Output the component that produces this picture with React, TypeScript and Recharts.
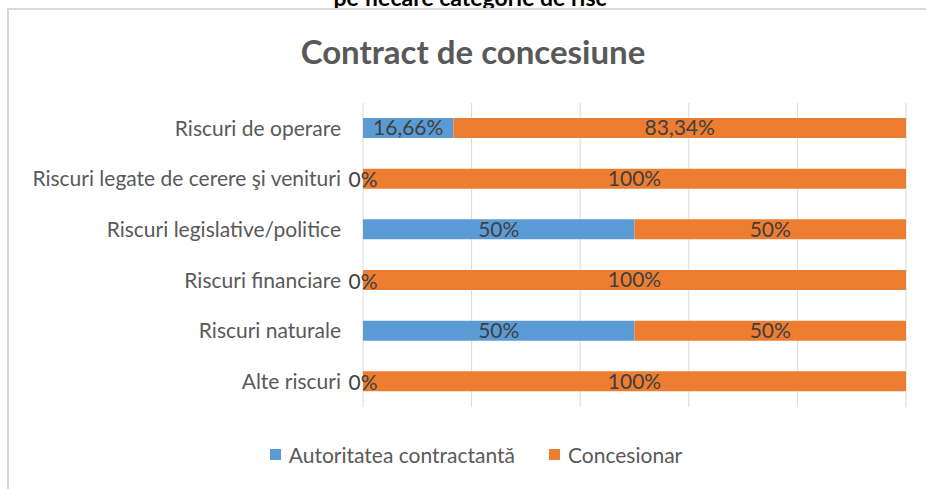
import React from 'react';
import { BarChart, Bar, XAxis, YAxis, CartesianGrid, LabelList } from 'recharts';

const categories = [
  'Riscuri de operare',
  'Riscuri legate de cerere şi venituri',
  'Riscuri legislative/politice',
  'Riscuri financiare',
  'Riscuri naturale',
  'Alte riscuri',
];
const autoritate = [16.66, 0, 50, 0, 50, 0];
const concesionar = [83.34, 100, 50, 100, 50, 100];
const xTicks = [0, 20, 40, 60, 80, 100];

const seriesNames = ['Autoritatea contractantă', 'Concesionar'];
const BLUE = '#5b9bd5';
const ORANGE = '#ed7d31';
const FONT = 'Lato, "Open Sans", sans-serif';

const data = categories.map((name, i) => ({
  name,
  autoritate: autoritate[i],
  concesionar: concesionar[i],
}));

const pct = (v: any) => `${String(v).replace('.', ',')}%`;

const labelStyle = { fill: '#404040', fontSize: 21, fontFamily: FONT };

// zero-valued blue segments have no rectangle, so draw their "0%" at the start of the orange bar
const ZeroLabel = (props: any) => {
  const { x, y, height, value } = props;
  if (value !== 0) return null;
  return (
    <text x={x} y={y + height / 2} textAnchor="middle" dominantBaseline="central" {...labelStyle}>
      {pct(value)}
    </text>
  );
};

export default function App() {
  return (
    <div style={{ position: 'absolute', left: 0, top: 0, width: 926, height: 489, background: '#fff', overflow: 'hidden', fontFamily: FONT }}>
      <div style={{ position: 'absolute', top: -16, left: 0, width: 940, textAlign: 'center', fontSize: 23, fontWeight: 700, color: '#000', lineHeight: 1.2 }}>
        pe fiecare categorie de risc
      </div>
      <div style={{ position: 'absolute', left: 7, top: 8, width: 1000, height: 500, borderTop: '2px solid #d9d9d9', borderLeft: '2px solid #d9d9d9', background: '#fff' }} />
      <div style={{ position: 'absolute', top: 31, left: 0, width: 946, textAlign: 'center', fontSize: 33, fontWeight: 700, color: '#595959' }}>
        Contract de concesiune
      </div>
      <div style={{ position: 'absolute', left: 0, top: 0 }}>
        <BarChart
          width={926}
          height={489}
          data={data}
          layout="vertical"
          margin={{ top: 103, right: 20, bottom: 82, left: 0 }}
          barSize={20}
        >
          <CartesianGrid horizontal={false} stroke="#d9d9d9" />
          <XAxis type="number" domain={[0, 100]} ticks={xTicks} hide />
          <YAxis
            type="category"
            dataKey="name"
            width={363}
            axisLine={false}
            tickLine={false}
            tickMargin={16}
            tick={{ fill: '#595959', fontSize: 21, fontFamily: FONT }}
          />
          <Bar dataKey="autoritate" stackId="a" fill={BLUE} isAnimationActive={false}>
            <LabelList dataKey="autoritate" position="center" formatter={pct} style={labelStyle} />
          </Bar>
          <Bar dataKey="concesionar" stackId="a" fill={ORANGE} isAnimationActive={false}>
            <LabelList dataKey="concesionar" position="center" formatter={pct} style={labelStyle} />
            <LabelList dataKey="autoritate" content={ZeroLabel} />
          </Bar>
        </BarChart>
      </div>
      <div style={{ position: 'absolute', top: 442, left: 0, width: 952, display: 'flex', justifyContent: 'center', gap: 34, fontSize: 21, color: '#595959' }}>
        {seriesNames.map((n, i) => (
          <div key={n} style={{ display: 'flex', alignItems: 'center', gap: 8 }}>
            <span style={{ width: 11, height: 11, background: i === 0 ? BLUE : ORANGE, display: 'inline-block' }} />
            <span>{n}</span>
          </div>
        ))}
      </div>
    </div>
  );
}
